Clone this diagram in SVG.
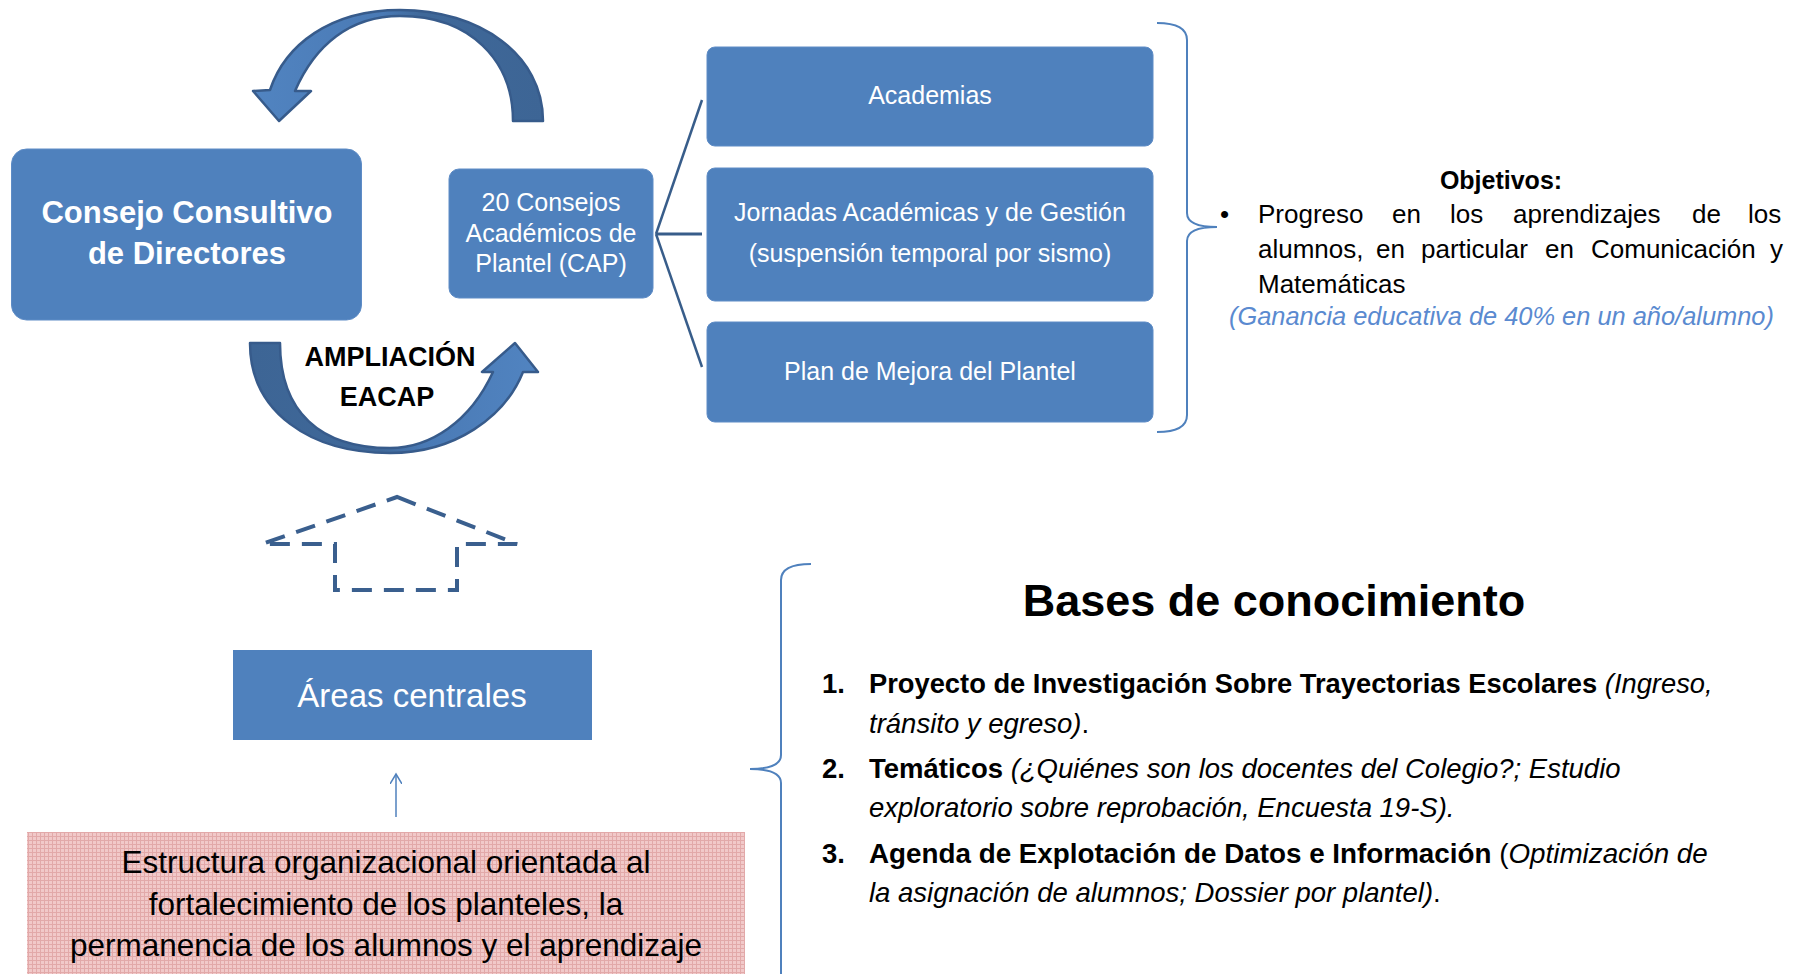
<svg xmlns="http://www.w3.org/2000/svg" width="1805" height="974" viewBox="0 0 1805 974">
<defs>
<style>
text{font-family:"Liberation Sans",Arial,sans-serif;}
.box{fill:#4F81BD;stroke:#5E8CC6;stroke-width:1;}
.wt{fill:#FFFFFF;text-anchor:middle;}
.blk{fill:#000000;}
.conn{stroke:#385D8A;stroke-width:2.5;fill:none;}
.brace{stroke:#4F81BD;stroke-width:2;fill:none;}
.arr{stroke:#375B8B;stroke-width:2.5;stroke-linejoin:round;}
.b{font-weight:bold;}
.i{font-style:italic;}
</style>
<linearGradient id="gTop" gradientUnits="userSpaceOnUse" x1="250" y1="0" x2="545" y2="0">
<stop offset="0" stop-color="#5184C1"/>
<stop offset="0.45" stop-color="#4A7AB5"/>
<stop offset="0.58" stop-color="#3F6899"/>
<stop offset="1" stop-color="#3D6595"/>
</linearGradient>
<linearGradient id="gBot" gradientUnits="userSpaceOnUse" x1="250" y1="0" x2="540" y2="0">
<stop offset="0" stop-color="#3D6595"/>
<stop offset="0.45" stop-color="#3F6899"/>
<stop offset="0.6" stop-color="#4A7AB5"/>
<stop offset="1" stop-color="#5184C1"/>
</linearGradient>
<pattern id="pink" patternUnits="userSpaceOnUse" width="4" height="4">
<rect width="4" height="4" fill="#F1C9C9"/>
<rect x="0" y="0" width="4" height="1" fill="#E2A9A9"/>
<rect x="0" y="0" width="1" height="4" fill="#E2A9A9"/>
</pattern>
<marker id="openArrow" markerWidth="12" markerHeight="12" refX="10" refY="6" orient="auto" markerUnits="userSpaceOnUse">
<path d="M0,0 L10,6 L0,12" fill="none" stroke="#4F81BD" stroke-width="1.5"/>
</marker>
</defs>
<rect width="1805" height="974" fill="#FFFFFF"/>

<g id="connectors">
<path class="conn" d="M656,234 L702,100"/>
<path class="conn" d="M656,234 L702,234" style="stroke-width:3"/>
<path class="conn" d="M656,234 L702,367"/>
<path class="brace" d="M1157,23 Q1187,23 1187,40 L1187,213 Q1187,227 1217,227 Q1187,227 1187,241 L1187,415 Q1187,432 1157,432"/>
<path class="brace" d="M811,564 Q781,564 781,580 L781,755 Q781,769 750,769 Q781,769 781,783 L781,980"/>
<path d="M396,817 L396,774" stroke="#4F81BD" stroke-width="1.5" fill="none" marker-end="url(#openArrow)"/>
</g>

<g id="arrow-top">
<path class="arr" fill="url(#gTop)" d="M543,121 C543,55 480,10 400,10 C330,10 285,45 270,90 L253,91 L279,121 L311,91 L295,91 C315,45 350,16 400,16 C470,16 513,60 513,121 Z"/>
</g>

<g id="arrow-bottom">
<path class="arr" fill="url(#gBot)" d="M250,343 C250,412 310,453 390,453 C455,453 505,417 523,372 L538,372 L515,343 L482,372 L493,372 C470,422 430,448 390,448 C320,448 280,412 280,343 Z"/>
<text class="blk b" x="390" y="366" font-size="27" text-anchor="middle">AMPLIACIÓN</text>
<text class="blk b" x="387" y="406" font-size="27" text-anchor="middle">EACAP</text>
</g>

<g id="consejo-consultivo">
<rect class="box" x="11.5" y="149" width="350" height="171" rx="15"/>
<text class="wt b" x="187" y="223" font-size="31">Consejo Consultivo</text>
<text class="wt b" x="187" y="264" font-size="31">de Directores</text>
</g>

<g id="cap">
<rect class="box" x="449" y="169" width="204" height="129" rx="10"/>
<text class="wt" x="551" y="211" font-size="25">20 Consejos</text>
<text class="wt" x="551" y="242" font-size="25">Académicos de</text>
<text class="wt" x="551" y="272" font-size="25">Plantel (CAP)</text>
</g>

<g id="academias">
<rect class="box" x="707" y="47" width="446" height="99" rx="8"/>
<text class="wt" x="930" y="104" font-size="25">Academias</text>
</g>

<g id="jornadas">
<rect class="box" x="707" y="168" width="446" height="133" rx="8"/>
<text class="wt" x="930" y="221" font-size="25">Jornadas Académicas y de Gestión</text>
<text class="wt" x="930" y="262" font-size="25">(suspensión temporal por sismo)</text>
</g>

<g id="plan-mejora">
<rect class="box" x="707" y="322" width="446" height="100" rx="8"/>
<text class="wt" x="930" y="380" font-size="25">Plan de Mejora del Plantel</text>
</g>

<g id="objetivos">
<text class="blk b" x="1501" y="189" font-size="25" text-anchor="middle">Objetivos:</text>
<text class="blk" x="1220" y="223" font-size="26">•</text>
<text class="blk" y="223" font-size="26"><tspan x="1258">Progreso</tspan><tspan x="1392">en</tspan><tspan x="1450">los</tspan><tspan x="1513">aprendizajes</tspan><tspan x="1692">de</tspan><tspan x="1748">los</tspan></text>
<text class="blk" y="258" font-size="26"><tspan x="1258">alumnos,</tspan><tspan x="1376">en</tspan><tspan x="1421">particular</tspan><tspan x="1545">en</tspan><tspan x="1591">Comunicación</tspan><tspan x="1770">y</tspan></text>
<text class="blk" x="1258" y="293" font-size="26">Matemáticas</text>
<text class="i" x="1229" y="325" font-size="25.4" fill="#5A8AD0">(Ganancia educativa de 40% en un año/alumno)</text>
</g>

<g id="house">
<path d="M397,497 L517,544 L457,544 L457,590 L335,590 L335,544 L262,544 Z" fill="none" stroke="#3A5F8E" stroke-width="4" stroke-dasharray="20 12" stroke-linejoin="miter"/>
</g>

<g id="areas-centrales">
<rect x="233" y="650" width="359" height="90" fill="#4F81BD"/>
<text class="wt" x="412" y="707" font-size="33">Áreas centrales</text>
</g>

<g id="estructura">
<rect x="27" y="832" width="718" height="150" fill="url(#pink)"/>
<text class="blk" x="386" y="873" font-size="31.5" text-anchor="middle">Estructura organizacional orientada al</text>
<text class="blk" x="386" y="915" font-size="31.5" text-anchor="middle">fortalecimiento de los planteles, la</text>
<text class="blk" x="386" y="956" font-size="31.5" text-anchor="middle">permanencia de los alumnos y el aprendizaje</text>
</g>

<g id="bases">
<text class="blk b" x="1274" y="616" font-size="45" text-anchor="middle">Bases de conocimiento</text>
<text class="blk b" x="822" y="693" font-size="27.5">1.</text>
<text class="blk" x="869" y="693" font-size="27.3"><tspan class="b">Proyecto de Investigación Sobre Trayectorias Escolares</tspan> <tspan class="i">(Ingreso,</tspan></text>
<text class="blk i" x="869" y="733" font-size="27.5">tránsito y egreso)<tspan font-style="normal">.</tspan></text>
<text class="blk b" x="822" y="778" font-size="27.5">2.</text>
<text class="blk" x="869" y="778" font-size="27.5"><tspan class="b">Temáticos</tspan> <tspan class="i">(¿Quiénes son los docentes del Colegio?; Estudio</tspan></text>
<text class="blk i" x="869" y="817" font-size="27.5">exploratorio sobre reprobación, Encuesta 19-S).</text>
<text class="blk b" x="822" y="863" font-size="27.5">3.</text>
<text class="blk" x="869" y="863" font-size="27.8"><tspan class="b">Agenda de Explotación de Datos e Información</tspan> (<tspan class="i">Optimización de</tspan></text>
<text class="blk i" x="869" y="902" font-size="27.5">la asignación de alumnos; Dossier por plantel)<tspan font-style="normal">.</tspan></text>
</g>
</svg>
